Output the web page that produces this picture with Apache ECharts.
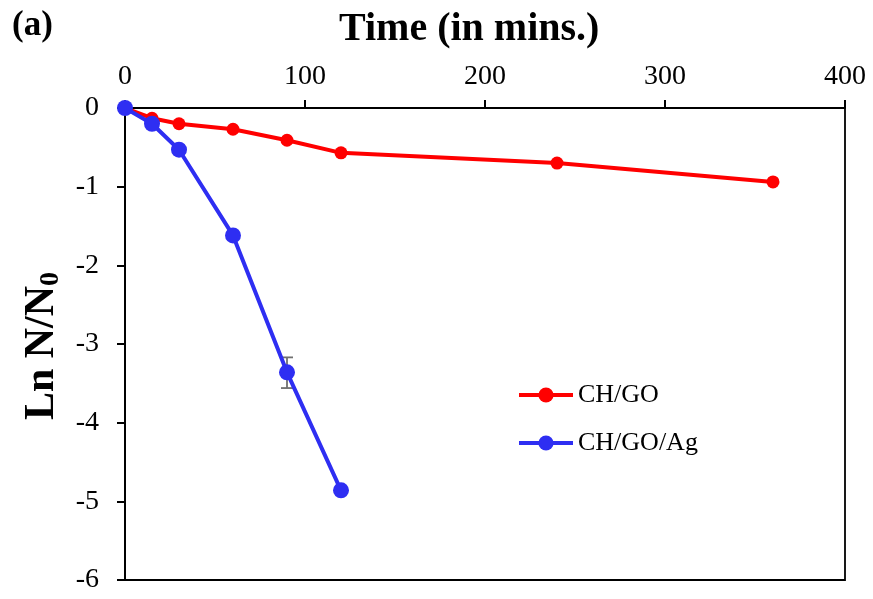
<!DOCTYPE html>
<html>
<head>
<meta charset="utf-8">
<script src="https://cdn.jsdelivr.net/npm/echarts@6/dist/echarts.min.js"></script>
<style>
  html, body { margin: 0; padding: 0; background: #fff; }
  #chart { width: 873px; height: 599px; }
</style>
</head>
<body>
<div id="chart"></div>
<script>
  // data
  var timeGO = [0, 15, 30, 60, 90, 120, 240, 360];
  var lnGO = [0, -0.13, -0.2, -0.27, -0.41, -0.57, -0.7, -0.94];
  var timeAg = [0, 15, 30, 60, 90, 120];
  var lnAg = [0, -0.2, -0.53, -1.62, -3.36, -4.86];
  // error bar [time, high, low]
  var errAg = [[90, -3.17, -3.56]];
  var xTicks = [0, 100, 200, 300, 400];
  var yTicks = [-6, -5, -4, -3, -2, -1, 0];

  function pairs(xs, ys) {
    var out = [];
    for (var i = 0; i < xs.length; i++) out.push([xs[i], ys[i]]);
    return out;
  }

  var font = '"Liberation Serif", "Times New Roman", serif';
  var myChart = echarts.init(document.getElementById('chart'));

  var option = {
    animation: false,
    textStyle: { fontFamily: font },
    title: [
      { text: '(a)', left: 7, top: 3,
        textStyle: { fontFamily: font, fontSize: 35, fontWeight: 'bold', color: '#000' } },
      { text: 'Time (in mins.)', left: 334, top: 5,
        textStyle: { fontFamily: font, fontSize: 40, fontWeight: 'bold', color: '#000' } }
    ],
    grid: {
      left: 125, right: 28, top: 108, bottom: 19,
      show: true, borderColor: '#000', borderWidth: 1.8
    },
    legend: {
      orient: 'vertical',
      left: 512, top: 377,
      itemWidth: 54, itemHeight: 19,
      itemGap: 22,
      lineStyle: { width: 4 },
      textStyle: { fontFamily: font, fontSize: 26, color: '#000' },
      data: ['CH/GO', 'CH/GO/Ag']
    },
    xAxis: {
      type: 'value', position: 'top',
      min: xTicks[0], max: xTicks[xTicks.length - 1], interval: 100,
      axisLine: { show: true, lineStyle: { color: '#000', width: 2 } },
      axisTick: { show: true, inside: false, length: 8, lineStyle: { color: '#000', width: 2 } },
      axisLabel: { fontFamily: font, fontSize: 28, color: '#000', margin: 17 },
      splitLine: { show: false }
    },
    yAxis: {
      type: 'value',
      min: yTicks[0], max: yTicks[yTicks.length - 1], interval: 1,
      name: '{a|Ln N/N}{b|0}',
      nameLocation: 'middle', nameRotate: 90, nameGap: 50,
      nameTextStyle: {
        rich: {
          a: { fontFamily: font, fontSize: 42, fontWeight: 'bold', color: '#000' },
          b: { fontFamily: font, fontSize: 28, fontWeight: 'bold', color: '#000',
               verticalAlign: 'bottom', padding: [18, 4, 0, 0] }
        }
      },
      axisLine: { show: true, lineStyle: { color: '#000', width: 2 } },
      axisTick: { show: true, inside: false, length: 8, lineStyle: { color: '#000', width: 2 } },
      axisLabel: { fontFamily: font, fontSize: 28, color: '#000', margin: 26 },
      splitLine: { show: false }
    },
    series: [
      {
        name: 'CH/GO', type: 'line',
        data: pairs(timeGO, lnGO),
        symbol: 'circle', symbolSize: 13,
        itemStyle: { color: '#FF0000' },
        lineStyle: { color: '#FF0000', width: 4 },
        z: 2
      },
      {
        name: 'CH/GO/Ag', type: 'line',
        data: pairs(timeAg, lnAg),
        symbol: 'circle', symbolSize: 16,
        itemStyle: { color: '#2E2EF2' },
        lineStyle: { color: '#2E2EF2', width: 4 },
        z: 4
      },
      {
        name: 'err', type: 'custom',
        data: errAg,
        z: 3,
        renderItem: function (params, api) {
          var x = api.value(0);
          var hi = api.coord([x, api.value(1)]);
          var lo = api.coord([x, api.value(2)]);
          var w = 6;
          var st = { stroke: '#707070', lineWidth: 1.8 };
          return {
            type: 'group',
            children: [
              { type: 'line', shape: { x1: hi[0], y1: hi[1], x2: lo[0], y2: lo[1] }, style: st },
              { type: 'line', shape: { x1: hi[0] - w, y1: hi[1], x2: hi[0] + w, y2: hi[1] }, style: st },
              { type: 'line', shape: { x1: lo[0] - w, y1: lo[1], x2: lo[0] + w, y2: lo[1] }, style: st }
            ]
          };
        }
      }
    ]
  };

  myChart.setOption(option);
</script>
</body>
</html>
